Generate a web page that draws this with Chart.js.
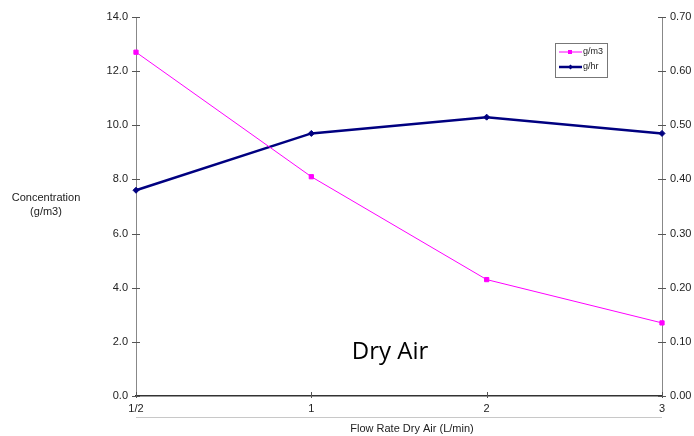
<!DOCTYPE html>
<html>
<head>
<meta charset="utf-8">
<script src="https://cdn.jsdelivr.net/npm/chart.js@4/dist/chart.umd.min.js"></script>
<style>
  html, body { margin: 0; padding: 0; background: #fff; }
  #wrap { width: 694px; height: 436px; }
</style>
</head>
<body>
<div id="wrap"><canvas id="chart"></canvas></div>
<script>
const flowRates = ["1/2", "1", "2", "3"];
const concentration = [12.7, 8.1, 4.3, 2.7];   // g/m3, left axis
const massRate = [0.38, 0.485, 0.515, 0.485];  // g/hr, right axis

const font = "'Liberation Sans', Arial, sans-serif";

// axis titles, tick marks that cross the axis, boxed legend and the caption
const decorations = {
  id: 'decorations',
  afterDraw(chart) {
    const ctx = chart.ctx;
    const a = chart.chartArea;
    const sx = chart.scales.x, sl = chart.scales.y, sr = chart.scales.y2;
    ctx.save();

    // tick marks
    ctx.strokeStyle = '#555';
    ctx.lineWidth = 1;
    ctx.beginPath();
    sl.ticks.forEach((t, i) => {
      const y = Math.round(sl.getPixelForTick(i)) + 0.5;
      ctx.moveTo(a.left - 4, y); ctx.lineTo(a.left + 4, y);
    });
    sr.ticks.forEach((t, i) => {
      const y = Math.round(sr.getPixelForTick(i)) + 0.5;
      ctx.moveTo(a.right - 4, y); ctx.lineTo(a.right + 4, y);
    });
    sx.ticks.forEach((t, i) => {
      const x = Math.round(sx.getPixelForTick(i)) + 0.5;
      ctx.moveTo(x, a.bottom - 4); ctx.lineTo(x, a.bottom + 2);
    });
    ctx.stroke();

    // light rule under the category labels
    ctx.strokeStyle = '#c8c8c8';
    ctx.beginPath();
    ctx.moveTo(a.left, 417.5); ctx.lineTo(a.right, 417.5);
    ctx.stroke();

    // titles
    ctx.fillStyle = '#222';
    ctx.font = '11px ' + font;
    ctx.textAlign = 'center';
    ctx.textBaseline = 'middle';
    ctx.fillText('Concentration', 46, 198);
    ctx.fillText('(g/m3)', 46, 212);
    ctx.fillText('Flow Rate Dry Air (L/min)', 412, 429);

    ctx.fillStyle = '#000';
    ctx.font = "24px 'Open Sans', sans-serif";
    ctx.fillText('Dry Air', 390, 352);

    // legend
    ctx.strokeStyle = '#777';
    ctx.lineWidth = 1;
    ctx.strokeRect(555.5, 43.5, 52, 34);
    ctx.font = '9px ' + font;
    ctx.textAlign = 'left';
    ctx.fillStyle = '#222';
    chart.data.datasets.forEach((ds, i) => {
      const y = 52 + i * 15;
      ctx.strokeStyle = ds.borderColor;
      ctx.lineWidth = ds.borderWidth;
      ctx.beginPath();
      ctx.moveTo(559, y); ctx.lineTo(582, y);
      ctx.stroke();
      ctx.fillStyle = ds.pointBackgroundColor;
      ctx.beginPath();
      if (ds.pointStyle === 'rectRot') {
        ctx.moveTo(570.5, y - 2.5); ctx.lineTo(573, y); ctx.lineTo(570.5, y + 2.5); ctx.lineTo(568, y);
      } else {
        ctx.rect(568, y - 2, 4, 4);
      }
      ctx.fill();
      ctx.fillStyle = '#222';
      ctx.fillText(ds.label, 583, y);
    });
    ctx.restore();
  }
};

new Chart(document.getElementById('chart'), {
  type: 'line',
  data: {
    labels: flowRates,
    datasets: [
      {
        label: 'g/m3',
        data: concentration,
        yAxisID: 'y',
        borderColor: '#ff00ff',
        backgroundColor: '#ff00ff',
        pointBackgroundColor: '#ff00ff',
        pointBorderColor: '#ff00ff',
        borderWidth: 1,
        pointStyle: 'rect',
        pointRadius: 3,
        tension: 0
      },
      {
        label: 'g/hr',
        data: massRate,
        yAxisID: 'y2',
        borderColor: '#000080',
        backgroundColor: '#000080',
        pointBackgroundColor: '#000080',
        pointBorderColor: '#000080',
        borderWidth: 2.5,
        pointStyle: 'rectRot',
        pointRadius: 3,
        pointBorderWidth: 1,
        tension: 0
      }
    ]
  },
  options: {
    responsive: true,
    maintainAspectRatio: false,
    animation: false,
    layout: { padding: { top: 17, left: 0, right: 0, bottom: 0 } },
    plugins: { legend: { display: false }, tooltip: { enabled: false } },
    scales: {
      x: {
        type: 'category',
        offset: false,
        grid: { display: false, drawTicks: false },
        border: { display: true, color: '#333', width: 1.5 },
        ticks: { color: '#222', font: { family: font, size: 11 }, padding: 6, maxRotation: 0 },
        afterFit(s) { s.height = 40; }
      },
      y: {
        position: 'left',
        min: 0, max: 14,
        grid: { display: false, drawTicks: false },
        border: { display: true, color: '#888', width: 1 },
        ticks: {
          stepSize: 2, color: '#222', padding: 8,
          font: { family: font, size: 11 },
          callback: v => v.toFixed(1)
        },
        afterFit(s) { s.width = 136; }
      },
      y2: {
        position: 'right',
        min: 0, max: 0.7,
        grid: { display: false, drawTicks: false },
        border: { display: true, color: '#888', width: 1 },
        ticks: {
          stepSize: 0.1, color: '#222', padding: 8,
          font: { family: font, size: 11 },
          callback: v => v.toFixed(2)
        },
        afterFit(s) { s.width = 32; }
      }
    }
  },
  plugins: [decorations]
});
</script>
</body>
</html>
